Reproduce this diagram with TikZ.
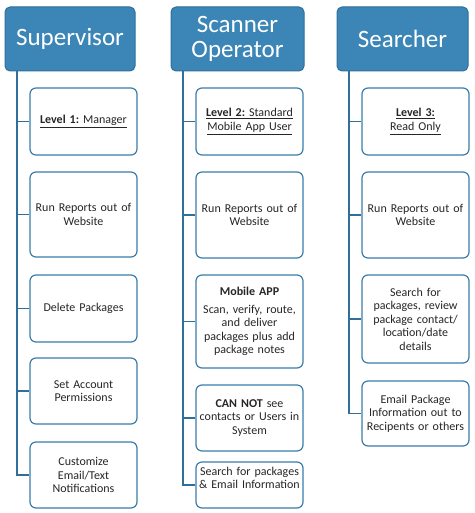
\documentclass[tikz,border=0pt]{standalone}
\usepackage{fontspec}
\setmainfont{Carlito}
\usepackage{xcolor}
\usepackage{tikz}
\frenchspacing
\definecolor{hdrblue}{HTML}{3B86B6}
\definecolor{hdredge}{HTML}{2F6F99}
\definecolor{boxedge}{HTML}{3A7DAA}
\definecolor{txtgray}{HTML}{262626}
\tikzset{
	header/.style={draw=hdredge, fill=hdrblue, line width=1pt, rounded corners=5pt, text=white, align=center, font=\fontsize{25}{25}\selectfont, minimum height=64pt},
	item/.style={draw=boxedge, fill=white, line width=1.2pt, rounded corners=6pt, text=txtgray, align=center, text width=101pt, minimum width=107pt, inner sep=3pt, font=\fontsize{12}{13.5}\selectfont},
	spine/.style={draw=hdredge, line width=1.6pt}
}

\begin{document}
\begin{tikzpicture}[x=1pt, y=-1pt]
		\useasboundingbox (0,0) rectangle (474,513);

		% column headers
		\node[header, minimum width=130pt] (sup) at (70,39) {Supervisor};
		\node[header, minimum width=133pt] (op) at (237.5,39) {Scanner\\Operator};
		\node[header, minimum width=131pt] (sea) at (402.5,39) {Searcher};

		% supervisor column
		\node[item, minimum height=67pt] (s1) at (83.5,121.5) {\underline{\textbf{Level 1:} Manager}};
		\node[item, minimum height=85pt] (s2) at (83.5,214.5) {Run Reports out of\\Website};
		\node[item, minimum height=67pt] (s3) at (83.5,308.5) {Delete Packages};
		\node[item, minimum height=66pt] (s4) at (83.5,391) {Set Account\\Permissions};
		\node[item, minimum height=66pt] (s5) at (83.5,475) {Customize\\Email/Text\\Notifications};

		% scanner operator column
		\node[item, minimum height=67pt] (o1) at (249.5,121.5) {\underline{\textbf{Level 2:} Standard}\\\underline{Mobile App User}};
		\node[item, minimum height=86pt] (o2) at (249.5,215) {Run Reports out of\\Website};
		\node[item, minimum height=93pt] (o3) at (249.5,321.5) {\textbf{Mobile APP}\\[4pt]Scan, verify, route,\\and deliver\\packages plus add\\package notes};
		\node[item, minimum height=66pt] (o4) at (249.5,418) {\textbf{CAN NOT} see\\contacts or Users in\\System};
		\node[item, minimum height=46pt, text depth=28pt] (o5) at (249.5,485) {Search for packages\\\& Email Information};

		% searcher column
		\node[item, minimum height=67pt] (r1) at (415.5,121.5) {\underline{\textbf{Level 3:}}\\\underline{Read Only}};
		\node[item, minimum height=86pt] (r2) at (415.5,215) {Run Reports out of\\Website};
		\node[item, minimum height=88pt] (r3) at (415.5,319) {Search for\\packages, review\\package contact/\\location/date\\details};
		\node[item, minimum height=65pt] (r4) at (415.5,413.5) {Email Package\\Information out to\\Recipents or others};

		% spines
		\coordinate (sup-top) at (17,71);
		\coordinate (op-top) at (183,71);
		\coordinate (sea-top) at (349,71);

		\draw[spine] (sup-top) |- (s5.west);
		\foreach \b in {s1, s2, s3, s4}
			\draw[spine] (\b.west) -- (\b.west -| sup-top);

		\draw[spine] (op-top) |- (o5.west);
		\foreach \b in {o1, o2, o3, o4}
			\draw[spine] (\b.west) -- (\b.west -| op-top);

		\draw[spine] (sea-top) |- (r4.west);
		\foreach \b in {r1, r2, r3}
			\draw[spine] (\b.west) -- (\b.west -| sea-top);
	\end{tikzpicture}
\end{document}
